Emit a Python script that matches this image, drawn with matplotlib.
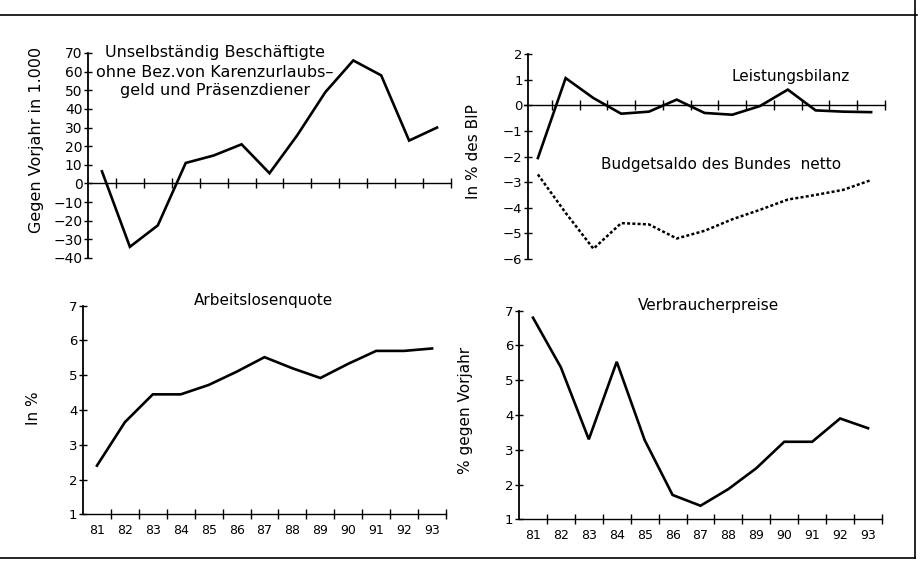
import matplotlib
matplotlib.use("Agg")
import matplotlib.pyplot as plt
from matplotlib.lines import Line2D
import numpy as np

years = [81, 82, 83, 84, 85, 86, 87, 88, 89, 90, 91, 92, 93]
year_labels = ["81", "82", "83", "84", "85", "86", "87", "88", "89", "90", "91", "92", "93"]

beschaeftigte = [6.5, -34, -22.5, 11, 15, 21, 5.5, 26, 49, 66, 58, 23, 30]
leistungsbilanz = [-2.06, 1.06, 0.28, -0.33, -0.25, 0.22, -0.3, -0.37, -0.03, 0.61, -0.2, -0.25, -0.27]
budgetsaldo = [-2.7, -4.2, -5.6, -4.6, -4.65, -5.2, -4.9, -4.45, -4.08, -3.68, -3.5, -3.3, -2.92]
arbeitslosenquote = [2.4, 3.65, 4.45, 4.45, 4.72, 5.1, 5.52, 5.2, 4.92, 5.33, 5.7, 5.7, 5.77]
verbraucherpreise = [6.8, 5.37, 3.3, 5.53, 3.28, 1.7, 1.39, 1.87, 2.47, 3.23, 3.23, 3.9, 3.62]

W, H = 922, 563
fig = plt.figure(figsize=(W / 100, H / 100), dpi=100)
plt.rcParams['font.family'] = ['DejaVu Sans']

def px_axes(x0, x1, ytop, ybot):
    return fig.add_axes([x0 / W, 1 - ybot / H, (x1 - x0) / W, (ybot - ytop) / H])

half_ticks = [y + 0.5 for y in years]
LW = 1.9

def style(ax, ylim, yticks, zero_axis, labels, fs):
    ax.set_xlim(80.5, 93.5)
    ax.set_ylim(*ylim)
    for s in ['top', 'right']:
        ax.spines[s].set_visible(False)
    ax.spines['left'].set_linewidth(1.3)
    ax.spines['bottom'].set_linewidth(1.0)
    if zero_axis:
        ax.spines['bottom'].set_position(('data', 0))
    ax.set_yticks(yticks)
    ax.tick_params(axis='y', direction='inout', length=6, width=1, pad=1, labelsize=fs)
    if labels:
        ax.set_xticks(years)
        ax.set_xticklabels(year_labels, fontsize=9)
        ax.tick_params(axis='x', which='major', length=0, pad=7)
    else:
        ax.set_xticks([])
    ax.set_xticks(half_ticks, minor=True)
    ax.tick_params(axis='x', which='minor', direction='inout', length=7, width=1)
    ax.patch.set_alpha(0)

# Top-left
ax1 = px_axes(88, 451, 53, 258)
ax1.plot(years, beschaeftigte, color='black', lw=LW, solid_joinstyle='miter')
style(ax1, (-40, 70), list(range(-40, 71, 10)), True, False, 10)
ax1.set_yticklabels([str(v) if v >= 0 else '\u2212' + str(-v) for v in range(-40, 71, 10)])
ax1.text(85.05, 70, "Unselbständig Beschäftigte", ha='center', va='center', fontsize=11.5)
ax1.text(85.05, 59.5, "ohne Bez.von Karenzurlaubs\u2013", ha='center', va='center', fontsize=11.5)
ax1.text(85.05, 50, "geld und Präsenzdiener", ha='center', va='center', fontsize=11.5)
fig.text(37 / W, 1 - 140 / H, "Gegen Vorjahr in 1.000", rotation=90, ha='center', va='center', fontsize=11.5)

# Top-right
ax2 = px_axes(524, 885, 54, 259)
ax2.plot(years, leistungsbilanz, color='black', lw=LW, solid_joinstyle='miter')
ax2.plot(years, budgetsaldo, color='black', lw=1.8, linestyle=(0, (1.2, 0.9)))
style(ax2, (-6, 2), list(range(-6, 3)), True, False, 9.5)
ax2.set_yticklabels([str(v) if v >= 0 else '\u2212' + str(-v) for v in range(-6, 3)])
ax2.spines['left'].set_position(('data', 80.65))
ax2.text(90.1, 1.12, "Leistungsbilanz", ha='center', va='center', fontsize=11)
ax2.text(87.6, -2.32, "Budgetsaldo des Bundes  netto", ha='center', va='center', fontsize=11)
fig.text(473 / W, 1 - 152 / H, "In % des BIP", rotation=90, ha='center', va='center', fontsize=11)

# Bottom-left
ax3 = px_axes(83, 446, 305.7, 514.3)
ax3.plot(years, arbeitslosenquote, color='black', lw=LW, solid_joinstyle='miter')
style(ax3, (1, 7), list(range(1, 8)), False, True, 9.5)
ax3.text(86.95, 7.16, "Arbeitslosenquote", ha='center', va='center', fontsize=11)
fig.text(33 / W, 1 - 408 / H, "In %", rotation=90, ha='center', va='center', fontsize=11)

# Bottom-right
ax4 = px_axes(519, 882, 310.7, 519.3)
ax4.plot(years, verbraucherpreise, color='black', lw=LW, solid_joinstyle='miter')
style(ax4, (1, 7), list(range(1, 8)), False, True, 9.5)
ax4.text(87.3, 7.16, "Verbraucherpreise", ha='center', va='center', fontsize=11)
fig.text(465 / W, 1 - 410 / H, "% gegen Vorjahr", rotation=90, ha='center', va='center', fontsize=11)

# Frame lines
fig.add_artist(Line2D([0, 917 / W], [1 - 15 / H, 1 - 15 / H], color='black', lw=1.2, transform=fig.transFigure))
fig.add_artist(Line2D([915 / W, 915 / W], [1, 1 - 558 / H], color='black', lw=1.2, transform=fig.transFigure))
fig.add_artist(Line2D([0, 915 / W], [1 - 558 / H, 1 - 558 / H], color='black', lw=1.2, transform=fig.transFigure))

fig.savefig("out.png", dpi=100, facecolor='white')
